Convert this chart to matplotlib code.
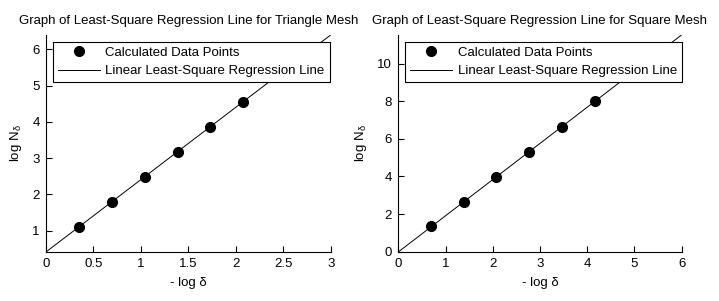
import numpy as np
import matplotlib
matplotlib.use("Agg")
import matplotlib.pyplot as plt

plt.rcParams['font.family'] = ['Liberation Sans', 'DejaVu Sans']
plt.rcParams['mathtext.fontset'] = 'custom'
plt.rcParams['mathtext.rm'] = 'Liberation Sans'
plt.rcParams['mathtext.it'] = 'Liberation Sans'

# triangle mesh: -log delta vs log N_delta
tri_x = [0.347, 0.693, 1.040, 1.386, 1.733, 2.079]
tri_y = [1.10, 1.80, 2.49, 3.18, 3.87, 4.56]

# square mesh
sq_x = [0.693, 1.386, 2.079, 2.773, 3.466, 4.159]
sq_y = [1.38, 2.62, 3.95, 5.30, 6.64, 8.03]

titles = ['Graph of Least-Square Regression Line for Triangle Mesh',
          'Graph of Least-Square Regression Line for Square Mesh']
xmax = [3, 6]
xticks = [[0, 0.5, 1, 1.5, 2, 2.5, 3], [0, 1, 2, 3, 4, 5, 6]]
xticklabels = [['0', '0.5', '1', '1.5', '2', '2.5', '3'],
               ['0', '1', '2', '3', '4', '5', '6']]
yticks = [[1, 2, 3, 4, 5, 6], [0, 2, 4, 6, 8, 10]]

fig = plt.figure(figsize=(7.19, 3.01), dpi=100)
ax1 = fig.add_axes([0.064, 0.163, 0.396, 0.721])
ax2 = fig.add_axes([0.554, 0.163, 0.394, 0.721])

for i, (ax, xs, ys) in enumerate([(ax1, tri_x, tri_y), (ax2, sq_x, sq_y)]):
    slope, icpt = np.polyfit(xs, ys, 1)
    lx = np.array([0, xmax[i]])
    ax.plot(xs, ys, 'o', color='black', markersize=7,
            label='Calculated Data Points')
    ax.plot(lx, icpt + slope * lx, '-', color='black', linewidth=0.7,
            label='Linear Least-Square Regression Line')
    ax.set_xlim(0, xmax[i])
    ax.set_ylim(icpt, icpt + slope * xmax[i])
    ax.set_xticks(xticks[i])
    ax.set_xticklabels(xticklabels[i])
    ax.set_yticks(yticks[i])
    ax.spines['top'].set_visible(False)
    ax.spines['right'].set_visible(False)
    ax.tick_params(direction='in', length=4, width=0.8, labelsize=9.5, pad=4.5)
    ax.set_title(titles[i], fontsize=9.5, pad=8)
    ax.set_xlabel('- log δ', fontsize=9.5, labelpad=5)
    ax.set_ylabel('log N$_{δ}$', fontsize=9.5, labelpad=6)
    leg = ax.legend(loc='upper left', fontsize=9.5, handlelength=3.2,
                    fancybox=False, framealpha=1, edgecolor='black',
                    borderaxespad=0.5, borderpad=0.4, labelspacing=0.45,
                    handletextpad=0.4)
    leg.get_frame().set_linewidth(0.8)

fig.savefig('out.png', dpi=100)
